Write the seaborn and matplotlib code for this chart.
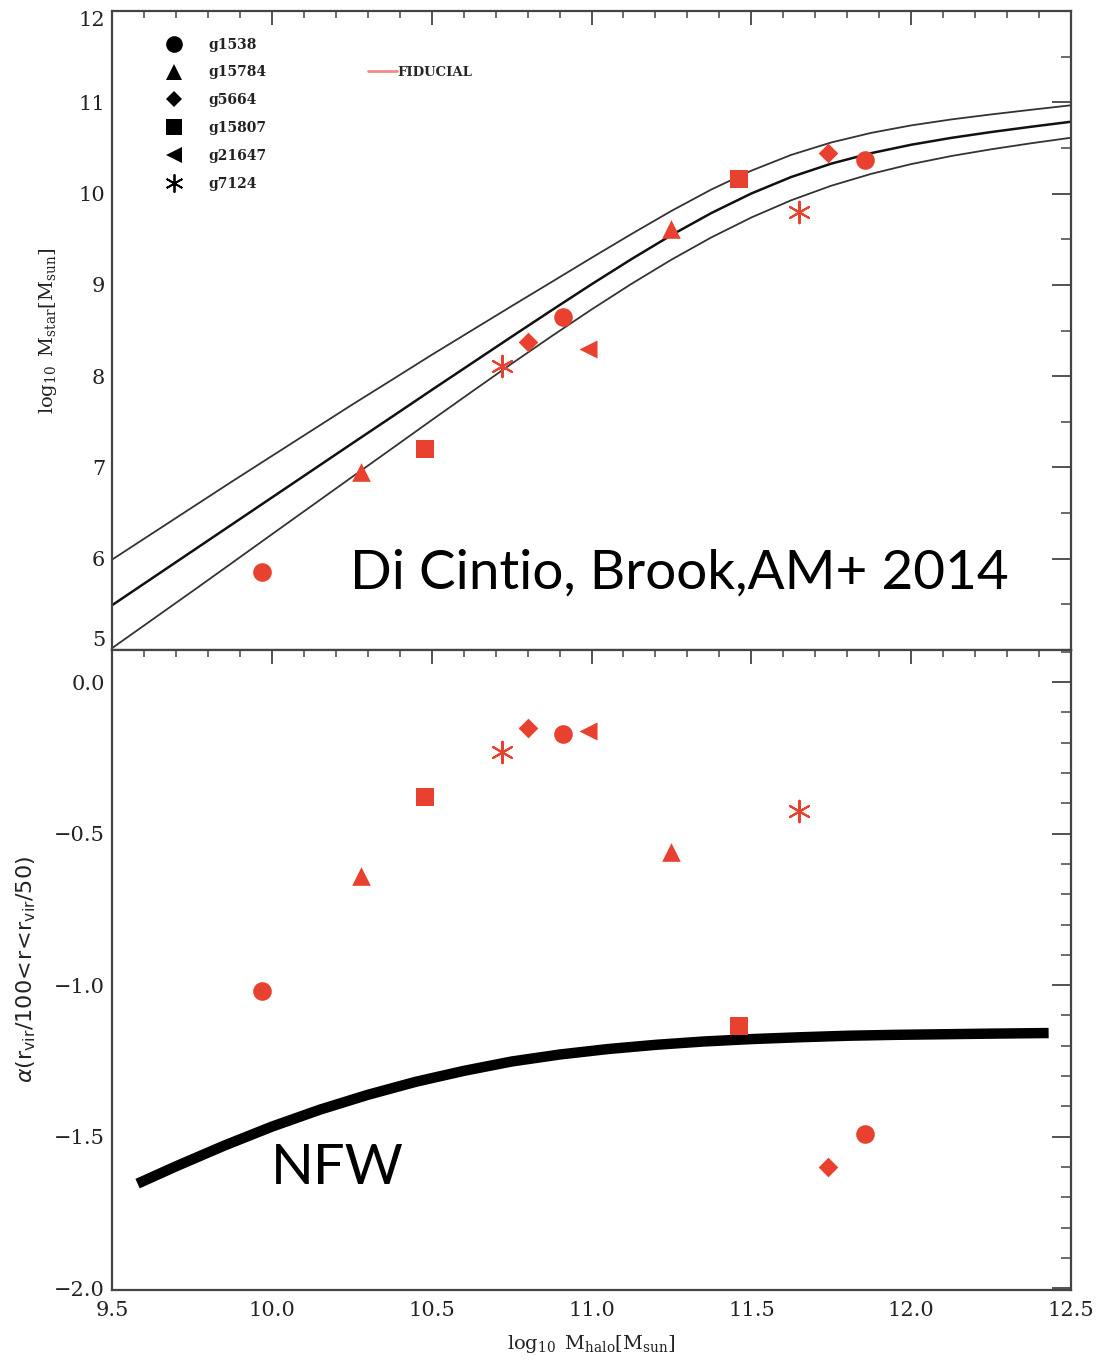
import numpy as np
import pandas as pd
import matplotlib
matplotlib.use("Agg")
import matplotlib.pyplot as plt
from matplotlib.lines import Line2D
from matplotlib.ticker import MultipleLocator
import seaborn as sns

# ---- simulated galaxies (halo mass, stellar mass, inner slope alpha) ----
galaxies = ["g1538", "g15784", "g5664", "g15807", "g21647", "g7124"]
g1538_mhalo = [9.97, 10.91, 11.855]
g1538_mstar = [5.85, 8.65, 10.37]
g1538_alpha = [-1.02, -0.17, -1.49]
g15784_mhalo = [10.28, 11.25]
g15784_mstar = [6.95, 9.61]
g15784_alpha = [-0.64, -0.56]
g5664_mhalo = [10.80, 11.74]
g5664_mstar = [8.37, 10.44]
g5664_alpha = [-0.15, -1.60]
g15807_mhalo = [10.48, 11.46]
g15807_mstar = [7.20, 10.16]
g15807_alpha = [-0.38, -1.135]
g21647_mhalo = [10.99]
g21647_mstar = [8.30]
g21647_alpha = [-0.16]
g7124_mhalo = [10.72, 11.65]
g7124_mstar = [8.11, 9.80]
g7124_alpha = [-0.23, -0.425]

# ---- abundance matching relation (central curve and envelope) ----
am_mhalo = [9.5, 9.625, 9.75, 9.875, 10.0, 10.125, 10.25, 10.375, 10.5, 10.625,
            10.75, 10.875, 11.0, 11.125, 11.25, 11.375, 11.5, 11.625, 11.75,
            11.875, 12.0, 12.125, 12.25, 12.375, 12.5]
am_mid = [5.49, 5.785, 6.08, 6.375, 6.67, 6.965, 7.26, 7.553, 7.848, 8.14,
          8.432, 8.721, 9.006, 9.282, 9.545, 9.787, 10.001, 10.182, 10.328,
          10.443, 10.535, 10.610, 10.674, 10.732, 10.787]
am_high = [5.99, 6.275, 6.56, 6.845, 7.125, 7.405, 7.685, 7.958, 8.233, 8.50,
           8.767, 9.031, 9.296, 9.557, 9.81, 10.045, 10.251, 10.424, 10.56,
           10.665, 10.747, 10.812, 10.867, 10.918, 10.967]
am_low = [5.02, 5.33, 5.64, 5.953, 6.267, 6.58, 6.893, 7.205, 7.518, 7.828,
          8.136, 8.437, 8.73, 9.011, 9.276, 9.52, 9.738, 9.927, 10.086,
          10.216, 10.323, 10.411, 10.485, 10.551, 10.612]

# ---- NFW inner slope ----
nfw_mhalo = [9.58, 9.70, 9.85, 10.0, 10.15, 10.30, 10.45, 10.60, 10.75, 10.90,
             11.05, 11.20, 11.35, 11.50, 11.65, 11.80, 11.95, 12.10, 12.25, 12.43]
nfw_alpha = [-1.655, -1.598, -1.530, -1.467, -1.411, -1.362, -1.319, -1.283,
             -1.252, -1.229, -1.211, -1.197, -1.186, -1.178, -1.172, -1.167,
             -1.164, -1.162, -1.160, -1.158]

x_ticks = [9.5, 10.0, 10.5, 11.0, 11.5, 12.0, 12.5]
x_ticklabels = ["9.5", "10.0", "10.5", "11.0", "11.5", "12.0", "12.5"]

sim = {
    "g1538": (g1538_mhalo, g1538_mstar, g1538_alpha),
    "g15784": (g15784_mhalo, g15784_mstar, g15784_alpha),
    "g5664": (g5664_mhalo, g5664_mstar, g5664_alpha),
    "g15807": (g15807_mhalo, g15807_mstar, g15807_alpha),
    "g21647": (g21647_mhalo, g21647_mstar, g21647_alpha),
    "g7124": (g7124_mhalo, g7124_mstar, g7124_alpha),
}
rows = []
for g in galaxies:
    mh, ms, al = sim[g]
    for a, b, c in zip(mh, ms, al):
        rows.append({"galaxy": g, "mhalo": a, "mstar": b, "alpha": c})
df = pd.DataFrame(rows)

am = pd.DataFrame({"mhalo": am_mhalo, "mid": am_mid, "high": am_high, "low": am_low})
nfw = pd.DataFrame({"mhalo": nfw_mhalo, "alpha": nfw_alpha})

sns.set_theme(style="white")
plt.rcParams["font.family"] = ["DejaVu Serif"]
plt.rcParams["mathtext.fontset"] = "dejavuserif"

RED = "#e8412f"
marker_style = {
    "g1538": dict(marker="o", s=180),
    "g15784": dict(marker="^", s=180),
    "g5664": dict(marker="D", s=100),
    "g15807": dict(marker="s", s=170),
    "g21647": dict(marker="<", s=170),
    "g7124": dict(marker=(6, 2, 0), s=240),
}
legend_ms = {"g1538": 12, "g15784": 12, "g5664": 8.5, "g15807": 11.5, "g21647": 12, "g7124": 13}

fig = plt.figure(figsize=(11.05, 13.69), dpi=100)
ax_top = fig.add_axes([0.10136, 0.52520, 0.86787, 0.46676])
ax_bot = fig.add_axes([0.10136, 0.05771, 0.86787, 0.46749])

# ---- top panel: stellar mass vs halo mass ----
sns.lineplot(data=am, x="mhalo", y="high", ax=ax_top, color="#333333", lw=1.3, estimator=None, sort=False)
sns.lineplot(data=am, x="mhalo", y="mid", ax=ax_top, color="#111111", lw=1.8, estimator=None, sort=False)
sns.lineplot(data=am, x="mhalo", y="low", ax=ax_top, color="#333333", lw=1.3, estimator=None, sort=False)

for g in galaxies:
    sub = df[df["galaxy"] == g]
    st = marker_style[g]
    is_line = g == "g7124"
    for ax, ycol in ((ax_top, "mstar"), (ax_bot, "alpha")):
        sns.scatterplot(data=sub, x="mhalo", y=ycol, ax=ax, color=RED,
                        marker=st["marker"], s=st["s"],
                        linewidth=1.5 if is_line else 0,
                        edgecolor=RED, legend=False, zorder=5)

# ---- bottom panel: NFW curve ----
sns.lineplot(data=nfw, x="mhalo", y="alpha", ax=ax_bot, color="black", lw=7.5,
             estimator=None, sort=False, solid_capstyle="butt")

for ax in (ax_top, ax_bot):
    ax.set_xlim(9.5, 12.5)
    ax.xaxis.set_major_locator(MultipleLocator(0.5))
    ax.xaxis.set_minor_locator(MultipleLocator(0.1))
    ax.tick_params(axis="both", which="both", direction="in", top=True, right=True,
                   color="#444444", labelsize=15, labelcolor="#222222")
    ax.tick_params(axis="x", which="major", length=10, width=1.3, pad=8)
    ax.tick_params(axis="x", which="minor", length=5, width=1.1)
    ax.tick_params(axis="y", which="major", length=14, width=1.3, pad=5)
    ax.tick_params(axis="y", which="minor", length=7, width=1.1)
    for sp in ax.spines.values():
        sp.set_color("#444444")
        sp.set_linewidth(1.6)
    ax.grid(False)

ax_top.set_ylim(5, 12)
ax_top.set_yticks([5, 6, 7, 8, 9, 10, 11, 12])
ax_top.yaxis.set_minor_locator(MultipleLocator(0.5))
ax_top.set_xticklabels([])
ax_top.set_xlabel("")
ylabs = ax_top.get_yticklabels()
ylabs[0].set_verticalalignment("bottom")
ylabs[-1].set_verticalalignment("top")
ax_top.set_ylabel(r"$\log_{10}\ \mathrm{M}_{\mathrm{star}}[\mathrm{M}_{\mathrm{sun}}]$",
                  fontsize=14, color="#222222")
ax_top.yaxis.set_label_coords(-0.055, 0.5)

ax_bot.set_ylim(-2.006, 0.106)
ax_bot.yaxis.set_minor_locator(MultipleLocator(0.1))
ax_bot.set_yticks([0.0, -0.5, -1.0, -1.5, -2.0])
ax_bot.set_yticklabels(["0.0", "\u22120.5", "\u22121.0", "\u22121.5", "\u22122.0"])
ax_bot.set_xticks(x_ticks)
ax_bot.set_xticklabels(x_ticklabels)
ax_bot.set_xlabel(r"$\log_{10}\ \mathrm{M}_{\mathrm{halo}}[\mathrm{M}_{\mathrm{sun}}]$",
                  fontsize=14, color="#222222", labelpad=9)
ax_bot.set_ylabel(r"$\alpha(\mathrm{r_{vir}}/100\!<\!\mathrm{r}\!<\!\mathrm{r_{vir}}/50)$",
                  fontsize=16, color="#222222", math_fontfamily="dejavusans")
ax_bot.yaxis.set_label_coords(-0.077, 0.5)

# ---- legends ----
handles = [Line2D([], [], linestyle="none", color="black", marker=marker_style[g]["marker"],
                  markersize=legend_ms[g], markeredgewidth=1.3 if g == "g7124" else 0)
           for g in galaxies]
leg1 = ax_top.legend(handles, galaxies, loc="upper left", bbox_to_anchor=(0.043, 0.978),
                     frameon=False, handlelength=1.2, handletextpad=1.9, labelspacing=1.0,
                     prop={"family": "DejaVu Serif", "size": 10, "weight": "bold"})
for t in leg1.get_texts():
    t.set_color("#222222")
ax_top.add_artist(leg1)
fid = Line2D([], [], color="#f28a8a", lw=2)
ax_top.legend([fid], ["FIDUCIAL"], loc="upper left", bbox_to_anchor=(0.255, 0.933),
              frameon=False, handlelength=2.2, handletextpad=0.0,
              prop={"family": "DejaVu Serif", "size": 9.5, "weight": "bold"})

# ---- annotations ----
ax_top.text(0.248, 0.12, "Di Cintio, Brook,AM+ 2014", transform=ax_top.transAxes,
            fontsize=39.5, family="Lato", color="black", ha="left", va="center")
ax_bot.text(0.166, 0.19, "NFW", transform=ax_bot.transAxes,
            fontsize=40.5, family="Lato", color="black", ha="left", va="center")

fig.savefig("out.png", dpi=100)
